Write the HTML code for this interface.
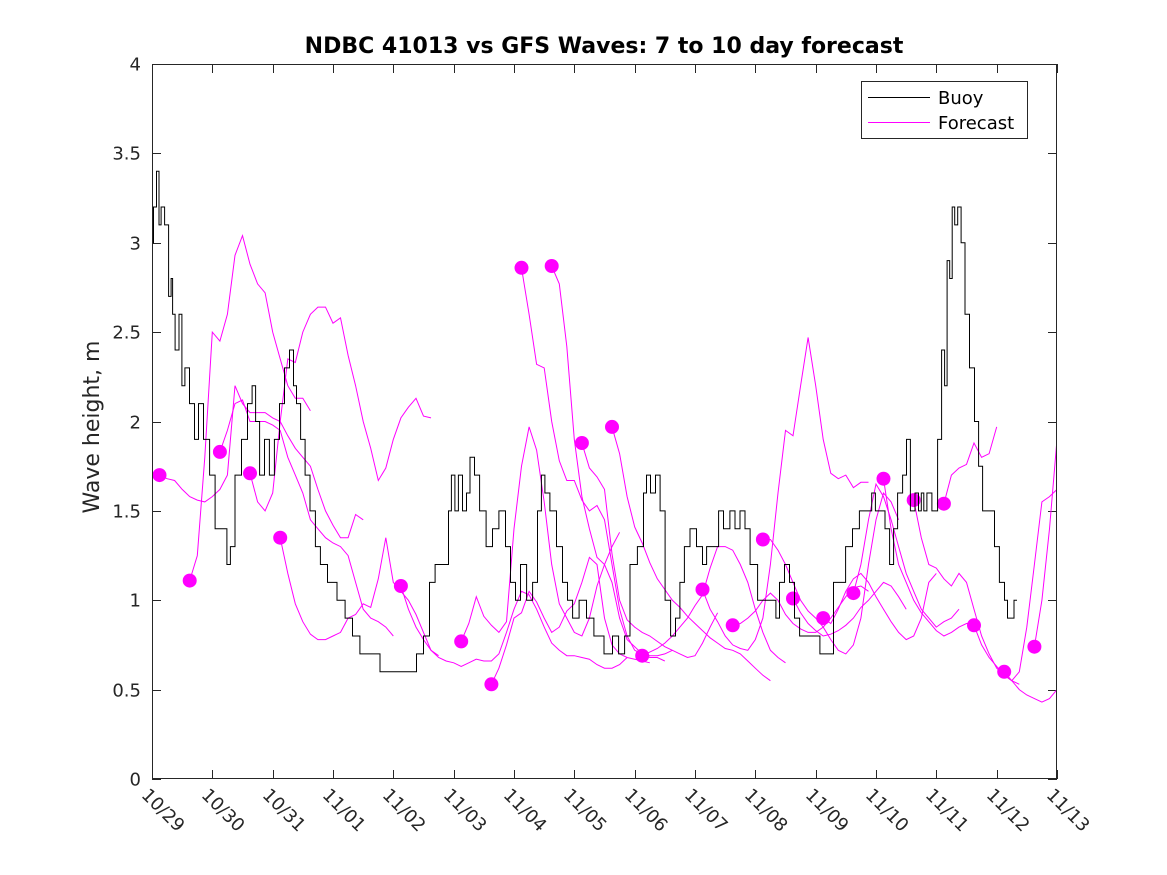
<!DOCTYPE html>
<html><head><meta charset="utf-8"><style>
body{margin:0;background:#fff;}
svg{display:block;font-family:"DejaVu Sans","Liberation Sans",sans-serif;}
</style></head><body>
<svg id="chart" width="1167" height="875" viewBox="0 0 1167 875" xmlns="http://www.w3.org/2000/svg">
<rect x="0" y="0" width="1167" height="875" fill="#fff"/>
<text x="604" y="53" text-anchor="middle" font-size="22" font-weight="bold" fill="#000">NDBC 41013 vs GFS Waves: 7 to 10 day forecast</text>
<text transform="translate(99,427) rotate(-90)" text-anchor="middle" font-size="22" fill="#262626">Wave height, m</text>
<defs><clipPath id="pc"><rect x="152" y="64" width="905" height="715"/></clipPath></defs>
<g id="axes"></g>
<g id="fc" clip-path="url(#pc)"></g>
<g id="buoy" clip-path="url(#pc)"></g>
<rect x="152.5" y="64.5" width="904" height="714" fill="none" stroke="#262626" stroke-width="1"/>
<g>
<rect x="861.5" y="81.5" width="166" height="57" fill="#fff" stroke="#262626" stroke-width="1"/>
<line x1="868" y1="97.5" x2="930" y2="97.5" stroke="#000" stroke-width="1"/>
<text x="938" y="104" font-size="18" fill="#000">Buoy</text>
<line x1="868" y1="122.5" x2="930" y2="122.5" stroke="#ff00ff" stroke-width="1"/>
<text x="938" y="129" font-size="18" fill="#000">Forecast</text>
</g>
</svg>
<script>
const xTickLabels=["10/29","10/30","10/31","11/01","11/02","11/03","11/04","11/05","11/06","11/07","11/08","11/09","11/10","11/11","11/12","11/13"];
const yTicks=[0,0.5,1,1.5,2,2.5,3,3.5,4];
const yTickLabels=["0","0.5","1","1.5","2","2.5","3","3.5","4"];
// buoy: hours since 10/29 00:00 and wave height (m)
const buoyHours=[0,1.2,2.4,3.2,4,6,7.2,8,8.4,10,11.5,12.3,13.9,15.9,17.9,19.1,21.9,23.9,26.3,29,30.6,31.8,34.2,37,39,40.6,41.8,43.8,45.7,47.7,49.7,51.7,53.7,55.7,56.9,58.1,60.1,61.7,64,66,68,71.6,75.6,78,81.5,83.9,89.5,91.9,103.8,106.6,109.4,111.4,113.8,117.4,118.5,119.7,121.3,122.5,124.5,125.7,127.3,129.3,131.3,134.5,136.4,139.6,141.6,143.6,145.6,147.6,150.4,152.4,154.3,155.5,157.1,159.5,162.3,164.3,166.3,168.3,171.5,174.2,177.4,182.2,184.2,187,189,191.3,194.9,196.1,197.3,199.3,201.3,202.9,205.3,207.3,209.2,210.8,212.8,215.2,218,220,221.2,224.8,226,228.7,231.1,232.7,235.1,236.7,239.1,242.7,247.8,248.6,250.6,252.6,254.6,256.6,258.6,264.9,266.5,269.7,272.5,274.9,276.9,280.4,282.4,285.6,287,288.5,290.8,292.4,294.4,295.6,297.6,299.6,300.7,302.7,304.3,305.5,306.5,307.5,309,311.5,313.5,314.7,315.9,316.7,317.9,318.7,319.9,321.1,322.6,324.2,326.2,328.2,329.4,331.4,334.2,336.1,338.1,340.1,340.5,342.5,343.3,344.1];
const buoyValues=[3.0,3.2,3.4,3.1,3.2,3.1,2.7,2.8,2.6,2.4,2.6,2.2,2.3,2.1,1.9,2.1,1.9,1.7,1.4,1.4,1.2,1.3,1.7,1.9,2.1,2.2,2.0,1.7,1.9,1.7,1.9,2.1,2.3,2.4,2.2,2.1,1.9,1.7,1.5,1.3,1.2,1.1,1.0,0.9,0.8,0.7,0.7,0.6,0.6,0.7,0.8,1.1,1.2,1.2,1.5,1.7,1.5,1.7,1.5,1.6,1.8,1.7,1.5,1.3,1.4,1.5,1.3,1.1,1.0,1.2,1.0,1.1,1.5,1.7,1.6,1.5,1.3,1.1,1.0,0.9,1.0,0.9,0.8,0.7,0.8,0.7,0.8,1.2,1.3,1.6,1.7,1.6,1.7,1.5,1.0,0.8,0.9,1.1,1.3,1.4,1.3,1.2,1.3,1.3,1.5,1.4,1.5,1.4,1.5,1.4,1.2,1.0,1.0,0.9,1.1,1.2,1.1,0.9,0.8,0.8,0.7,0.7,1.1,1.1,1.3,1.4,1.5,1.5,1.6,1.5,1.5,1.4,1.2,1.4,1.6,1.7,1.9,1.5,1.6,1.5,1.6,1.5,1.6,1.5,1.9,2.4,2.2,2.9,2.8,3.2,3.1,3.2,3.0,2.6,2.3,2.0,1.75,1.5,1.5,1.3,1.1,1.0,0.9,0.9,1.0,1.0];
// forecast init hours (dot) and values every 3 hours
const fcStart=[3,15,27,39,51,99,123,135,147,159,171,183,195,219,231,243,255,267,279,291,303,315,327,339,351];
const fc00=[1.70,1.68,1.67,1.62,1.58,1.56,1.55,1.58,1.62,1.7,2.2,2.1,2.05,2.05,2.05,2.02,2.0,1.92,1.85,1.8,1.75,1.62,1.5,1.42,1.35,1.35,1.48,1.45];
const fc01=[1.11,1.25,1.8,2.5,2.45,2.6,2.93,3.04,2.88,2.77,2.72,2.5,2.35,2.2,2.13,2.13,2.06];
const fc02=[1.83,1.95,2.1,2.12,2.0,2.0,2.0,1.98,1.95,1.8,1.7,1.6,1.45,1.4,1.35,1.32,1.3,1.25,1.1,0.95,0.9,0.88,0.85,0.8];
const fc03=[1.71,1.55,1.5,1.6,2.0,2.35,2.33,2.5,2.6,2.64,2.64,2.55,2.58,2.37,2.2,2.0,1.85,1.67,1.74,1.9,2.02,2.08,2.13,2.03,2.02];
const fc04=[1.35,1.15,0.98,0.88,0.81,0.78,0.78,0.8,0.82,0.9,0.92,0.98,0.96,1.12,1.35,1.1,1.05,1.0,0.92,0.82,0.72,0.69];
const fc08=[1.08,0.95,0.85,0.78,0.72,0.68,0.66,0.65,0.63,0.65,0.67,0.66,0.66,0.7,0.82,0.95,1.05,1.03,0.95,0.85,0.76,0.72,0.69,0.69,0.68,0.67,0.64,0.62,0.62,0.64,0.68];
const fc10=[0.77,0.87,1.02,0.91,0.86,0.82,0.88,1.4,1.75,1.97,1.84,1.55,1.2,0.98,0.9,0.82,0.8,0.9,1.08,1.2,1.3,1.38];
const fc11=[0.53,0.62,0.75,0.9,0.93,1.05,0.99,0.9,0.82,0.85,0.94,0.98,1.1,1.24,1.2,0.9,0.75,0.7,0.68,0.67,0.66,0.65];
const fc12=[2.86,2.6,2.32,2.3,2.0,1.78,1.67,1.67,1.56,1.5,1.53,1.45,1.2,0.95,0.8,0.72,0.7,0.68,0.68,0.66];
const fc13=[2.87,2.77,2.42,1.9,1.58,1.4,1.24,1.2,1.1,0.9,0.78,0.74,0.7,0.69,0.69,0.7,0.72];
const fc14=[1.88,1.74,1.69,1.62,1.26,1.0,0.89,0.85,0.82,0.8,0.77,0.74,0.72,0.7,0.68,0.69,0.76,0.85,0.93];
const fc15=[1.97,1.82,1.58,1.41,1.32,1.21,1.12,1.06,1.0,0.96,0.91,0.87,0.83,0.79,0.76,0.73,0.72,0.7,0.66,0.62,0.58,0.55];
const fc16=[0.69,0.71,0.73,0.76,0.8,0.85,0.9,0.97,1.03,1.18,1.3,1.3,1.28,1.2,1.1,0.95,0.82,0.72,0.68,0.65];
const fc18=[1.06,0.95,0.88,0.8,0.75,0.73,0.72,0.78,0.9,1.2,1.6,1.95,1.92,2.2,2.47,2.2,1.9,1.71,1.68,1.7,1.63,1.66,1.66];
const fc19=[0.86,0.87,0.9,0.94,1.0,1.04,1.0,0.92,0.87,0.84,0.82,0.82,0.85,0.9,0.96,1.02,1.07,1.08,1.05];
const fc20=[1.34,1.34,1.28,1.2,1.1,1.0,0.94,0.9,0.85,0.78,0.72,0.7,0.75,0.9,1.2,1.45,1.6,1.55,1.45];
const fc21=[1.01,0.93,0.87,0.83,0.8,0.81,0.83,0.86,0.9,0.96,1.0,1.05,1.1,1.08,1.02,0.95];
const fc22=[0.9,0.87,0.95,1.05,1.12,1.15,1.1,1.02,0.95,0.88,0.82,0.78,0.8,0.9,1.1,1.15];
const fc23=[1.04,1.2,1.45,1.65,1.58,1.45,1.3,1.15,1.05,0.95,0.9,0.85,0.88,0.9,0.95];
const fc24=[1.68,1.4,1.2,1.1,1.0,0.93,0.88,0.83,0.8,0.82,0.85,0.87,0.87];
const fc25=[1.56,1.35,1.2,1.18,1.12,1.08,1.15,1.1,0.95,0.8,0.7,0.62,0.58,0.55,0.5,0.47,0.45,0.43,0.45,0.5];
const fc26=[1.54,1.7,1.74,1.76,1.88,1.8,1.82,1.97];
const fc27=[0.86,0.75,0.68,0.63,0.58,0.55,0.53];
const fc28=[0.6,0.55,0.6,0.85,1.2,1.55,1.58,1.62];
const fc29=[0.74,1.0,1.4,1.9];
const fcSeries=[fc00,fc01,fc02,fc03,fc04,fc08,fc10,fc11,fc12,fc13,fc14,fc15,fc16,fc18,fc19,fc20,fc21,fc22,fc23,fc24,fc25,fc26,fc27,fc28,fc29];
const fcStepHours=3;

const NS="http://www.w3.org/2000/svg";
const X0=152,X1=1057,Y0=779,Y1=64,HMAX=360,VMAX=4;
function xs(h){return X0+(h/HMAX)*(X1-X0);}
function ys(v){return Y0-(v/VMAX)*(Y0-Y1);}
function mk(tag,attrs,parent){const e=document.createElementNS(NS,tag);for(const k in attrs)e.setAttribute(k,attrs[k]);parent.appendChild(e);return e;}

const axes=document.getElementById('axes');
yTicks.forEach((v,i)=>{
  const y=Math.round(ys(v))+0.5;
  const t1=mk('line',{x1:X0,y1:y,x2:X0+9,y2:y,stroke:'#262626','stroke-width':1},axes);
  
  
  const t2=mk('line',{x1:X1-9,y1:y,x2:X1,y2:y,stroke:'#262626','stroke-width':1},axes);
  
  
  const tx=mk('text',{x:X0-11,y:y+6,'text-anchor':'end','font-size':18,fill:'#262626'},axes);
  tx.textContent=yTickLabels[i];
  
  
});
xTickLabels.forEach((lab,i)=>{
  const x=Math.round(xs(i*24))+0.5;
  const t1=mk('line',{x1:x,y1:Y0,x2:x,y2:Y0-9,stroke:'#262626','stroke-width':1},axes);
  
  
  const t2=mk('line',{x1:x,y1:Y1,x2:x,y2:Y1+9,stroke:'#262626','stroke-width':1},axes);
  
  
  const tx=mk('text',{transform:`translate(${x-12},${Y0+17}) rotate(45)`,'font-size':18,fill:'#262626'},axes);
  tx.textContent=lab;
  
  
});

const fcG=document.getElementById('fc');
fcSeries.forEach((vals,i)=>{
  const h0=fcStart[i];
  const pts=vals.map((v,k)=>xs(h0+k*fcStepHours).toFixed(1)+','+ys(v).toFixed(1)).join(' ');
  const pl=mk('polyline',{points:pts,fill:'none',stroke:'#ff00ff','stroke-width':1},fcG);
  
  
});
fcSeries.forEach((vals,i)=>{
  const c=mk('circle',{cx:xs(fcStart[i]).toFixed(1),cy:ys(vals[0]).toFixed(1),r:7,fill:'#ff00ff'},fcG);
  
  
});

const bG=document.getElementById('buoy');
let d='';
buoyHours.forEach((h,k)=>{
  const x=xs(h).toFixed(1), y=ys(buoyValues[k]).toFixed(1);
  if(k===0){d+='M'+x+','+y;}
  else{const px=xs(buoyHours[k-1]), nx=xs(h); const mx=((px+nx)/2).toFixed(1); d+=' L'+mx+','+ys(buoyValues[k-1]).toFixed(1)+' L'+mx+','+y+' L'+x+','+y;}
});
const bl=mk('path',{d:d,fill:'none',stroke:'#000','stroke-width':1},bG);


</script>
</body></html>
